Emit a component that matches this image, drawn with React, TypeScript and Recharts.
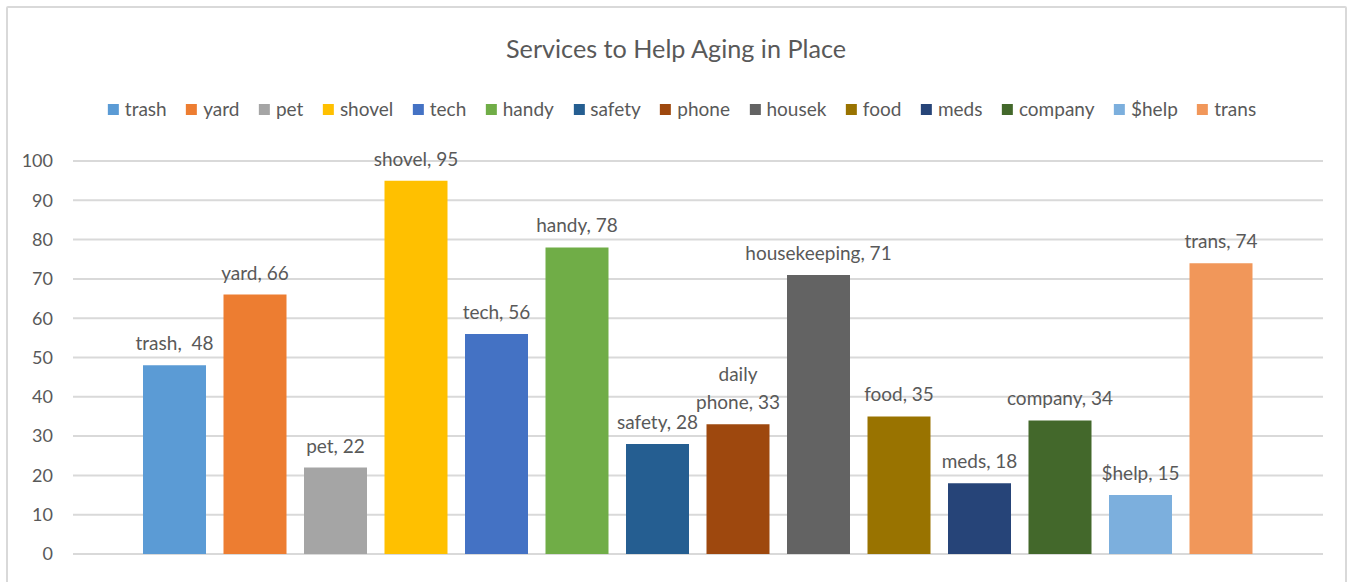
import React from 'react';
import { BarChart, Bar, XAxis, YAxis, CartesianGrid, LabelList } from 'recharts';

const categories = [''];
const seriesNames = ['trash', 'yard', 'pet', 'shovel', 'tech', 'handy', 'safety', 'phone', 'housek', 'food', 'meds', 'company', '$help', 'trans'];
const seriesValues = [48, 66, 22, 95, 56, 78, 28, 33, 71, 35, 18, 34, 15, 74];
const labelPrefixes = ['trash,  ', 'yard, ', 'pet, ', 'shovel, ', 'tech, ', 'handy, ', 'safety, ', 'daily\nphone, ', 'housekeeping, ', 'food, ', 'meds, ', 'company, ', '$help, ', 'trans, '];
const seriesColors = ['#5B9BD5', '#ED7D31', '#A5A5A5', '#FFC000', '#4472C4', '#70AD47', '#255E91', '#9E480E', '#636363', '#997300', '#264478', '#43682B', '#7CAFDD', '#F1975A'];
const yTicks = [0, 10, 20, 30, 40, 50, 60, 70, 80, 90, 100];

const FONT = 'Lato, "Open Sans", sans-serif';
const TEXT = '#595959';

const data = categories.map((c) => {
  const row: Record<string, any> = { cat: c };
  seriesNames.forEach((n, i) => {
    row[n] = seriesValues[i];
  });
  return row;
});

const makeLabel = (i: number) => (props: any) => {
  const vb = props.viewBox || {};
  const x = Number(props.x ?? vb.x);
  const y = Number(props.y ?? vb.y);
  const w = Number(props.width ?? vb.width);
  const cx = x + w / 2;
  const lines = (labelPrefixes[i] + String(props.value)).split('\n');
  const lh = 28;
  return (
    <text
      x={cx}
      y={y - 15}
      textAnchor="middle"
      fill={TEXT}
      fontSize={19}
      fontFamily={FONT}
      style={{ whiteSpace: 'pre' }}
    >
      {lines.map((l, k) => (
        <tspan key={k} x={cx} dy={k === 0 ? -(lines.length - 1) * lh : lh}>
          {l}
        </tspan>
      ))}
    </text>
  );
};

export default function App() {
  return (
    <div
      style={{
        position: 'absolute',
        left: 0,
        top: 0,
        width: 1349,
        height: 582,
        overflow: 'hidden',
        background: '#fff',
        fontFamily: FONT,
      }}
    >
      <div
        style={{
          position: 'absolute',
          left: 6,
          top: 6,
          width: 1337,
          height: 600,
          border: '2px solid #D9D9D9',
          borderRadius: 2,
        }}
      />
      <div
        style={{
          position: 'absolute',
          left: 676,
          top: 32,
          transform: 'translateX(-50%)',
          whiteSpace: 'nowrap',
          fontSize: 25.2,
          color: TEXT,
          lineHeight: '32px',
        }}
      >
        Services to Help Aging in Place
      </div>
      <div
        style={{
          position: 'absolute',
          left: 682,
          top: 97,
          transform: 'translateX(-50%)',
          display: 'flex',
          alignItems: 'center',
          whiteSpace: 'nowrap',
          fontSize: 19,
          color: TEXT,
          lineHeight: '24px',
        }}
      >
        {seriesNames.map((n, i) => (
          <div key={n} style={{ display: 'flex', alignItems: 'center', marginRight: i === seriesNames.length - 1 ? 0 : 19.5 }}>
            <span style={{ display: 'inline-block', width: 11, height: 11, background: seriesColors[i], marginRight: 6 }} />
            <span>{n}</span>
          </div>
        ))}
      </div>
      <div style={{ position: 'absolute', left: 0, top: 0 }}>
        <BarChart
          width={1349}
          height={582}
          data={data}
          margin={{ top: 161, right: 26, bottom: 28, left: 0 }}
          barCategoryGap={70}
          barGap={17.5}
        >
          <CartesianGrid vertical={false} stroke="#D9D9D9" strokeWidth={2} />
          <XAxis dataKey="cat" hide />
          <YAxis
            domain={[0, 100]}
            ticks={yTicks}
            interval={0}
            axisLine={false}
            tickLine={false}
            width={73}
            tickSize={6}
            tickMargin={14}
            tick={{ fill: TEXT, fontSize: 18, fontFamily: FONT }}
          />
          {seriesNames.map((n, i) => (
            <Bar key={n} dataKey={n} fill={seriesColors[i]} isAnimationActive={false}>
              <LabelList dataKey={n} content={makeLabel(i)} />
            </Bar>
          ))}
        </BarChart>
      </div>
    </div>
  );
}
